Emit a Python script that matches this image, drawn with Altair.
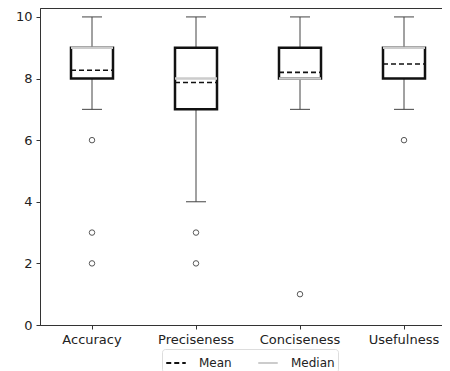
import altair as alt
import pandas as pd

cats = ["Accuracy", "Preciseness", "Conciseness", "Usefulness"]
q1 = [8, 7, 8, 8]
q3 = [9, 9, 9, 9]
medians = [9, 8, 8, 9]
means = [8.27, 7.87, 8.2, 8.47]
wlo = [7, 4, 7, 7]
whi = [10, 10, 10, 10]
out_cat = ["Accuracy", "Accuracy", "Accuracy", "Preciseness", "Preciseness", "Conciseness", "Usefulness"]
out_val = [6, 3, 2, 3, 2, 1, 6]

summ = pd.DataFrame({"cat": cats, "q1": q1, "q3": q3, "median": medians,
                     "mean": means, "lo": wlo, "hi": whi})
outl = pd.DataFrame({"cat": out_cat, "val": out_val})

x = alt.X("cat:N", sort=cats, title=None,
          scale=alt.Scale(paddingInner=0, paddingOuter=0),
          axis=alt.Axis(labelAngle=0, labelFontSize=13, labelColor="#222",
                        domainColor="#333", tickColor="#333", tickSize=4,
                        labelPadding=4, labelFont="DejaVu Sans"))
yscale = alt.Scale(domain=[0, 10.29], nice=False, zero=False)
yaxis = alt.Axis(values=[0, 2, 4, 6, 8, 10], labelFontSize=13, labelColor="#222",
                 domainColor="#333", tickColor="#333", tickSize=4, grid=False,
                 labelPadding=4, labelFont="DejaVu Sans", title=None)

base = alt.Chart(summ).encode(x=x)

whisk = base.mark_rule(color="#444", strokeWidth=1).encode(
    y=alt.Y("lo:Q", scale=yscale, axis=yaxis), y2="hi:Q")
caps_lo = base.mark_rule(color="#444", strokeWidth=1, xOffset=-10, x2Offset=10).encode(
    x2=alt.X2("cat:N"), y="lo:Q")
caps_hi = base.mark_rule(color="#444", strokeWidth=1, xOffset=-10, x2Offset=10).encode(
    x2=alt.X2("cat:N"), y="hi:Q")
box = base.mark_bar(size=42, fill="white", stroke="#111", strokeWidth=2.5).encode(
    y="q1:Q", y2="q3:Q")

color = alt.Color("stat:N", scale=alt.Scale(domain=["Mean", "Median"], range=["#111", "#cccccc"]),
                  legend=alt.Legend(title=None, orient="none", legendX=122, legendY=341,
                                    direction="horizontal", symbolType="stroke",
                                    symbolSize=380, symbolStrokeWidth=2,
                                    labelFontSize=12, labelFont="DejaVu Sans", labelColor="#222",
                                    labelOffset=12, strokeColor="#ddd", padding=3, cornerRadius=3,
                                    columnPadding=22, fillColor="white"))
dash = alt.StrokeDash("stat:N", scale=alt.Scale(domain=["Mean", "Median"], range=[[5, 3], [1, 0]]),
                      legend=None)

median = base.transform_calculate(stat="'Median'").mark_rule(
    strokeWidth=2.5, xOffset=-21, x2Offset=21).encode(
    x2=alt.X2("cat:N"), y="median:Q", color=color, strokeDash=dash)
mean = base.transform_calculate(stat="'Mean'").mark_rule(
    strokeWidth=1.6, xOffset=-21, x2Offset=21).encode(
    x2=alt.X2("cat:N"), y="mean:Q", color=color, strokeDash=dash)

pts = alt.Chart(outl).mark_point(shape="circle", filled=False, color="#111",
                                 size=30, strokeWidth=1).encode(
    x=alt.X("cat:N", sort=cats), y=alt.Y("val:Q", scale=yscale))

chart = alt.layer(whisk, caps_lo, caps_hi, box, median, mean, pts).properties(
    width=416, height=317,
    autosize=alt.AutoSizeParams(type="none"),
    padding={"left": 32, "top": 0, "right": -14, "bottom": 46},
).configure_view(stroke="#333", strokeWidth=1)

chart.save("out.html", embed_options={"renderer": "svg", "actions": False})
